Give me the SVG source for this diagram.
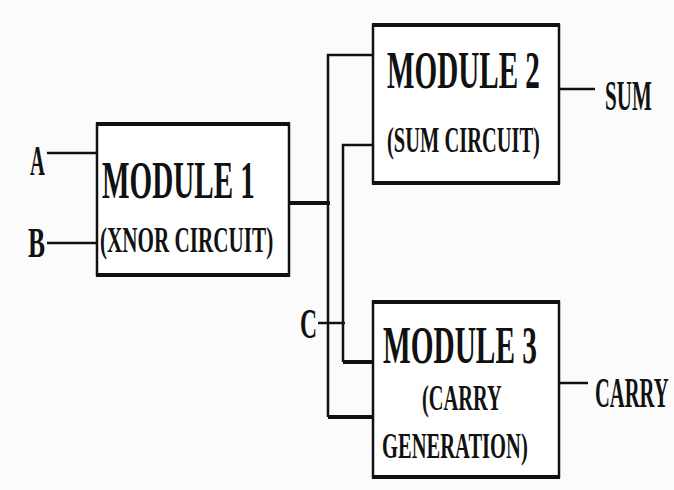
<svg xmlns="http://www.w3.org/2000/svg" width="674" height="490" viewBox="0 0 674 490">
<style>
.box{fill:#fff;stroke:#111;stroke-width:2.5}
.edge{stroke:#111;stroke-width:4}
.w{stroke:#111;stroke-width:2.5;fill:none}
.wt{stroke:#111;stroke-width:4;fill:none}
text{font-family:"Liberation Serif","Times New Roman",serif;font-weight:bold;fill:#111}
.big{font-size:52px}
.sub{font-size:35px}
.lbl{font-size:42px}
</style>
<rect width="674" height="490" fill="#fbfbfb"/>
<g id="connectors">
<line class="w" x1="47" y1="153" x2="97" y2="153"/>
<line class="w" x1="47" y1="243" x2="97" y2="243"/>
<line class="wt" x1="289" y1="203" x2="330" y2="203"/>
<polyline class="w" points="373,55 328,55 328,417"/>
<line class="wt" x1="328" y1="417" x2="374" y2="417"/>
<polyline class="w" points="373,145 343,145 343,362"/>
<line class="wt" x1="343" y1="362" x2="374" y2="362"/>
<line class="w" x1="318" y1="323" x2="345" y2="323"/>
<line class="w" x1="559" y1="89" x2="595" y2="89"/>
<line class="w" x1="559" y1="383" x2="588" y2="383"/>
</g>
<g id="inA"><text class="lbl" transform="translate(30,175) scale(0.55,1)" textLength="27" lengthAdjust="spacingAndGlyphs">A</text></g>
<g id="inB"><text class="lbl" transform="translate(28,257) scale(0.55,1)" textLength="31" lengthAdjust="spacingAndGlyphs">B</text></g>
<g id="labelC"><text class="lbl" transform="translate(300,338) scale(0.55,1)" textLength="31" lengthAdjust="spacingAndGlyphs">C</text></g>
<g id="outSUM"><text class="lbl" transform="translate(605,110) scale(0.55,1)" textLength="85" lengthAdjust="spacingAndGlyphs">SUM</text></g>
<g id="outCARRY"><text class="lbl" transform="translate(595,407) scale(0.49,1)" textLength="150" lengthAdjust="spacingAndGlyphs">CARRY</text></g>
<g id="module1">
<rect class="box" x="97" y="124" width="192" height="151"/>
<line class="edge" x1="96" y1="124" x2="290" y2="124"/>
<line class="edge" x1="96" y1="275" x2="290" y2="275"/>
<text class="big" transform="translate(102,198) scale(0.55,1)" textLength="278" lengthAdjust="spacingAndGlyphs">MODULE 1</text>
<text class="sub" transform="translate(100,252) scale(0.55,1)" textLength="315" lengthAdjust="spacingAndGlyphs">(XNOR CIRCUIT)</text>
</g>
<g id="module2">
<rect class="box" x="373" y="25" width="186" height="158"/>
<line class="edge" x1="372" y1="25" x2="560" y2="25"/>
<line class="edge" x1="372" y1="183" x2="560" y2="183"/>
<text class="big" transform="translate(387,88) scale(0.55,1)" textLength="278" lengthAdjust="spacingAndGlyphs">MODULE 2</text>
<text class="sub" transform="translate(387,152) scale(0.55,1)" textLength="278" lengthAdjust="spacingAndGlyphs">(SUM CIRCUIT)</text>
</g>
<g id="module3">
<rect class="box" x="373" y="302" width="186" height="175"/>
<line class="edge" x1="372" y1="302" x2="560" y2="302"/>
<line class="edge" x1="372" y1="477" x2="560" y2="477"/>
<text class="big" transform="translate(383,363) scale(0.55,1)" textLength="280" lengthAdjust="spacingAndGlyphs">MODULE 3</text>
<text class="sub" transform="translate(422,410) scale(0.55,1)" textLength="145" lengthAdjust="spacingAndGlyphs">(CARRY</text>
<text class="sub" transform="translate(382,458) scale(0.55,1)" textLength="265" lengthAdjust="spacingAndGlyphs">GENERATION)</text>
</g>
</svg>
